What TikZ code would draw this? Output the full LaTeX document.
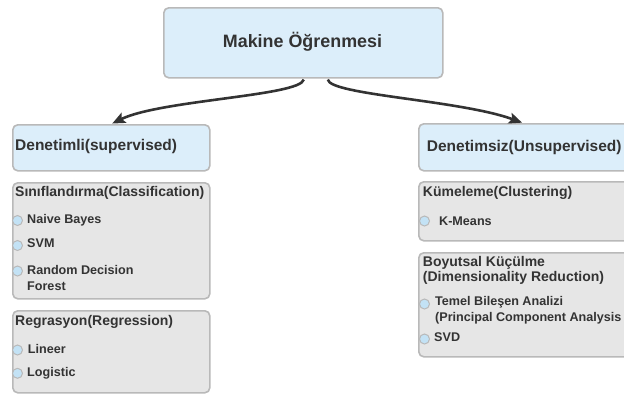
\documentclass[tikz,border=0pt]{standalone}
\usepackage{fontspec}
\setmainfont{Liberation Sans}
\usetikzlibrary{arrows.meta,calc}

\definecolor{boxblue}{HTML}{DCEEFA}
\definecolor{boxgray}{HTML}{E6E6E6}
\definecolor{edgegray}{HTML}{B9B9B9}
\definecolor{dotblue}{HTML}{C3E2F5}
\definecolor{ink}{HTML}{333333}

\tikzset{
  panel/.style={draw=edgegray, line width=1.6pt, rounded corners=5pt,
    anchor=north west, inner sep=0pt},
  headpanel/.style={panel, fill=boxblue},
  listpanel/.style={panel, fill=boxgray},
  txt/.style={anchor=base west, inner sep=0pt, text=ink, font=\bfseries},
  headtxt/.style={txt, font=\fontsize{15.5}{17}\selectfont\bfseries},
  titletxt/.style={txt, font=\fontsize{14}{16}\selectfont\bfseries},
  itemtxt/.style={txt, font=\fontsize{12.6}{15}\selectfont\bfseries},
  bullet/.style={circle, draw=edgegray, fill=dotblue, line width=1pt,
    minimum size=10pt, inner sep=0pt},
  link/.style={draw=ink, line width=2.6pt,
    -{Stealth[length=13pt, width=11pt, inset=2.5pt]}, shorten >=1pt}
}

\begin{document}
\begin{tikzpicture}[x=1pt, y=-1pt]
\useasboundingbox (0,0) rectangle (624,394);

% root
\node[headpanel, minimum width=279pt, minimum height=70pt] (ml) at (163,7) {};
\node[anchor=base, inner sep=0pt, text=ink, font=\fontsize{17.9}{20}\selectfont\bfseries]
  (mltxt) at (302.5,47.5) {Makine Öğrenmesi};

% supervised branch
\node[headpanel, minimum width=197pt, minimum height=46pt] (sup) at (12,124) {};
\node[headtxt] (suptxt) at (15,150.5) {Denetimli(supervised)};

\node[listpanel, minimum width=197pt, minimum height=116pt] (cls) at (12,182) {};
\node[titletxt] (clstxt) at (15,196) {Sınıflandırma(Classification)};
\node[bullet] (b1) at (17.5,220.5) {};
\node[itemtxt] (i1) at (27,223.5) {Naive Bayes};
\node[bullet] (b2) at (17.5,245.5) {};
\node[itemtxt] (i2) at (27,247.5) {SVM};
\node[bullet] (b3) at (17.5,271) {};
\node[itemtxt] (i3) at (27,274.3) {Random Decision};
\node[itemtxt] (i3b) at (27,290) {Forest};

\node[listpanel, minimum width=197pt, minimum height=82pt] (reg) at (12,310) {};
\node[titletxt] (regtxt) at (15,325) {Regrasyon(Regression)};
\node[bullet] (b4) at (17.5,350) {};
\node[itemtxt] (i4) at (27.7,353.7) {Lineer};
\node[bullet] (b5) at (17.5,373.3) {};
\node[itemtxt] (i5) at (27,376.7) {Logistic};

% unsupervised branch
\node[headpanel, minimum width=222pt, minimum height=47pt] (unsup) at (418,123) {};
\node[headtxt] (unsuptxt) at (426.7,151) {Denetimsiz(Unsupervised)};

\node[listpanel, minimum width=222pt, minimum height=59pt] (clu) at (418,181) {};
\node[titletxt] (clutxt) at (422.7,196) {Kümeleme(Clustering)};
\node[bullet] (b6) at (424.5,221) {};
\node[itemtxt] (i6) at (439,225) {K-Means};

\node[listpanel, minimum width=222pt, minimum height=104pt] (dim) at (418,252) {};
\node[titletxt] (dimtxt) at (422.7,266.5) {Boyutsal Küçülme};
\node[titletxt] (dimtxtb) at (422.7,281.7) {(Dimensionality Reduction)};
\node[bullet] (b7) at (424.5,304) {};
\node[itemtxt] (i7) at (435,305) {Temel Bileşen Analizi};
\node[itemtxt] (i7b) at (435,321) {(Principal Component Analysis};
\node[bullet] (b8) at (424.5,339) {};
\node[itemtxt] (i8) at (434,341.5) {SVD};

% connectors
\draw[link] ($(ml.south)+(0.5,1)$) .. controls (300,96) and (160,100) .. (sup.north);
\draw[link] ($(ml.south)+(24.5,1)$) .. controls (330,95) and (460,100) .. ($(unsup.north west)+(105,0)$);
\end{tikzpicture}
\end{document}
